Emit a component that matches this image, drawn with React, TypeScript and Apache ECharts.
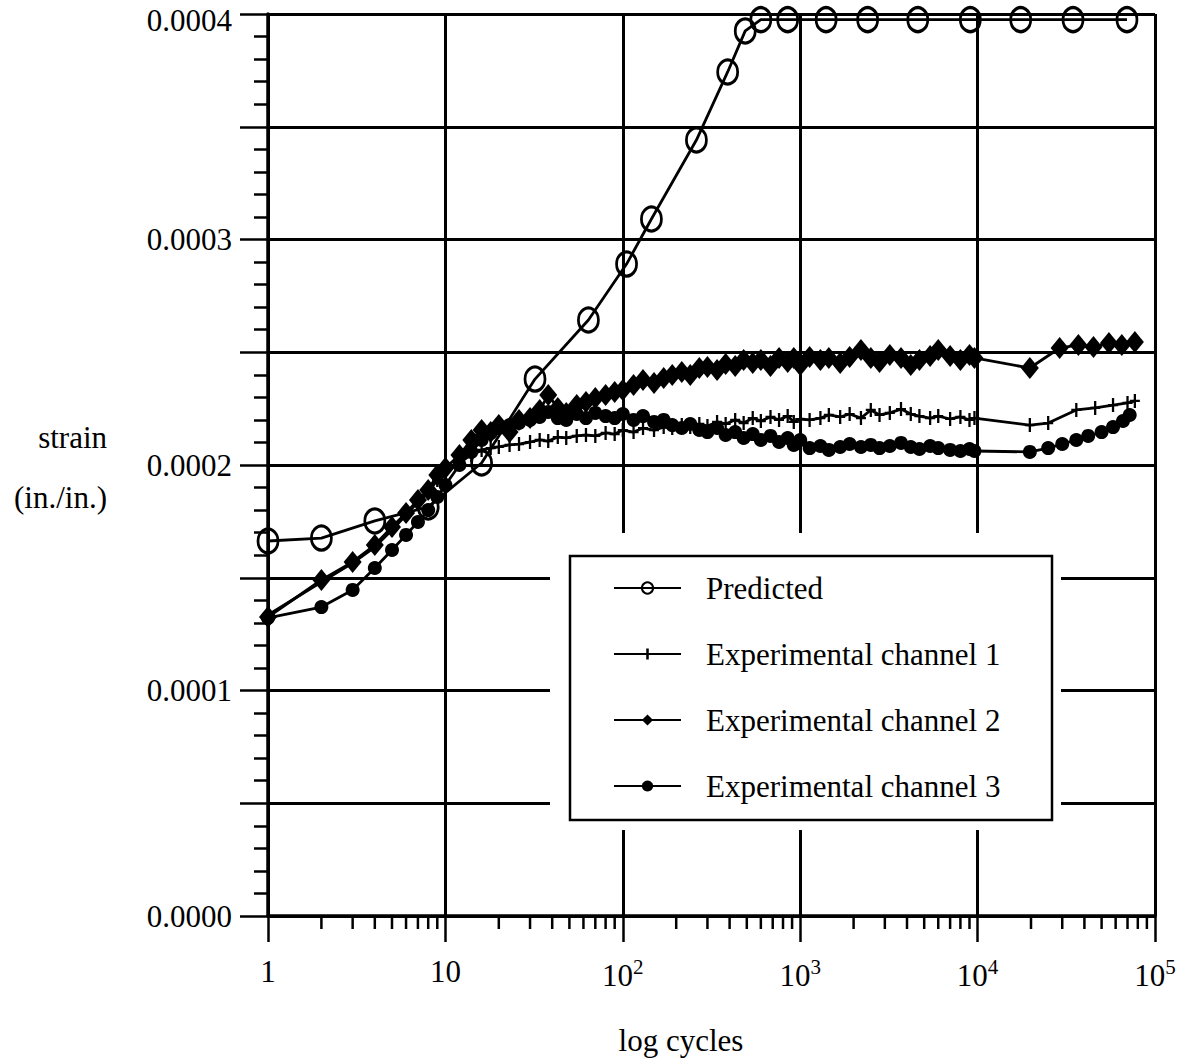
import React, { useEffect, useRef } from "react";
import * as echarts from "echarts";

// Strain values are stored in units of 1e-4 in./in.
const PRED_CYCLES = [1, 2, 4, 8, 16, 32, 64, 105, 145, 260, 390, 490, 600, 850, 1400, 2400, 4600, 9100, 17500, 34500, 69500];
const PRED_STRAIN = [1.663, 1.676, 1.752, 1.814, 2.009, 2.381, 2.643, 2.891, 3.091, 3.441, 3.743, 3.925, 3.975, 3.975, 3.975, 3.975, 3.975, 3.975, 3.975, 3.975, 3.975];

const CH1_CYCLES = [1, 2, 3, 4, 5, 6, 7, 8, 9, 10, 12, 14, 16, 18, 20, 23, 26, 30, 34, 38, 43, 48, 55, 62, 70, 80, 90, 100, 115, 130, 150, 170, 190, 215, 240, 270, 300, 340, 380, 430, 480, 540, 600, 680, 760, 850, 920, 1000, 1130, 1300, 1450, 1680, 1900, 2200, 2500, 2800, 3200, 3700, 4200, 4700, 5400, 6000, 7000, 8000, 9000, 9600, 19700, 25000, 36000, 46000, 58000, 70000, 77000];
const CH1_STRAIN = [1.335, 1.481, 1.565, 1.636, 1.712, 1.778, 1.836, 1.880, 1.933, 1.978, 2.013, 2.044, 2.067, 2.075, 2.080, 2.089, 2.093, 2.102, 2.111, 2.106, 2.124, 2.120, 2.129, 2.133, 2.129, 2.142, 2.137, 2.155, 2.146, 2.164, 2.155, 2.168, 2.164, 2.177, 2.168, 2.182, 2.173, 2.191, 2.182, 2.200, 2.186, 2.208, 2.195, 2.213, 2.200, 2.217, 2.191, 2.204, 2.200, 2.208, 2.222, 2.213, 2.226, 2.208, 2.244, 2.222, 2.231, 2.248, 2.226, 2.217, 2.208, 2.217, 2.204, 2.213, 2.200, 2.208, 2.177, 2.186, 2.244, 2.253, 2.266, 2.275, 2.284];

const CH2_CYCLES = [1, 2, 3, 4, 5, 6, 7, 8, 9, 10, 12, 14, 16, 18, 20, 23, 26, 30, 34, 38, 43, 48, 55, 62, 70, 80, 90, 100, 115, 130, 150, 170, 190, 215, 240, 270, 300, 340, 380, 430, 480, 540, 600, 680, 760, 850, 920, 1000, 1130, 1300, 1450, 1680, 1900, 2200, 2500, 2800, 3200, 3700, 4200, 4700, 5400, 6000, 7000, 8000, 9000, 9600, 19700, 29000, 37000, 45000, 55000, 65000, 77000];
const CH2_STRAIN = [1.326, 1.490, 1.570, 1.645, 1.725, 1.787, 1.845, 1.889, 1.956, 1.987, 2.044, 2.111, 2.155, 2.146, 2.177, 2.146, 2.200, 2.208, 2.244, 2.310, 2.253, 2.231, 2.266, 2.279, 2.297, 2.310, 2.324, 2.333, 2.355, 2.377, 2.364, 2.386, 2.399, 2.412, 2.399, 2.430, 2.435, 2.421, 2.448, 2.439, 2.466, 2.452, 2.466, 2.439, 2.475, 2.457, 2.475, 2.443, 2.479, 2.466, 2.475, 2.452, 2.479, 2.510, 2.475, 2.457, 2.488, 2.475, 2.443, 2.466, 2.483, 2.510, 2.483, 2.466, 2.488, 2.475, 2.430, 2.519, 2.532, 2.523, 2.541, 2.532, 2.545];

const CH3_CYCLES = [1, 2, 3, 4, 5, 6, 7, 8, 9, 10, 12, 14, 16, 18, 20, 23, 26, 30, 34, 38, 43, 48, 55, 62, 70, 80, 90, 100, 115, 130, 150, 170, 190, 215, 240, 270, 300, 340, 380, 430, 480, 540, 600, 680, 760, 850, 920, 1000, 1130, 1300, 1450, 1680, 1900, 2200, 2500, 2800, 3200, 3700, 4200, 4700, 5400, 6000, 7000, 8000, 9000, 9600, 19700, 25000, 30000, 36000, 42000, 50000, 58000, 66000, 72000];
const CH3_STRAIN = [1.322, 1.370, 1.446, 1.543, 1.623, 1.690, 1.747, 1.800, 1.858, 1.911, 2.000, 2.058, 2.111, 2.142, 2.164, 2.177, 2.186, 2.200, 2.213, 2.235, 2.208, 2.200, 2.226, 2.208, 2.231, 2.217, 2.208, 2.226, 2.200, 2.217, 2.191, 2.200, 2.177, 2.164, 2.182, 2.155, 2.146, 2.164, 2.133, 2.146, 2.120, 2.137, 2.111, 2.129, 2.102, 2.120, 2.089, 2.111, 2.075, 2.084, 2.067, 2.080, 2.093, 2.080, 2.089, 2.075, 2.084, 2.098, 2.080, 2.071, 2.084, 2.075, 2.067, 2.062, 2.071, 2.062, 2.058, 2.075, 2.093, 2.111, 2.129, 2.146, 2.168, 2.195, 2.222];

const SERIES_NAMES = ["Predicted", "Experimental channel 1", "Experimental channel 2", "Experimental channel 3"];
const X_MIN = 1;
const X_MAX = 100000;
const Y_MAX = 4; // 0.0004
const Y_STEP = 0.5; // 0.00005

const FONT = '"Liberation Serif", "Times New Roman", serif';

const zip = (xs: number[], ys: number[]) => xs.map((x, i) => [x, ys[i]]);

const minorTickData: number[][] = [];
for (let d = 1; d < X_MAX; d *= 10) {
  for (let m = 2; m <= 9; m++) minorTickData.push([d * m, 0]);
}

const PLUS = "path://M4.2,0 H5.8 V10 H4.2 Z M1.5,4.2 H8.5 V5.8 H1.5 Z";

export default function App() {
  const ref = useRef<HTMLDivElement>(null);
  useEffect(() => {
    if (!ref.current) return;
    const chart = echarts.init(ref.current, null, { renderer: "svg" });
    const black = "#000";
    const lineBase = { color: black, width: 2.8 };
    chart.setOption({
      animation: false,
      backgroundColor: "#fff",
      grid: { left: 268, top: 14, width: 887, height: 902, containLabel: false },
      xAxis: {
        type: "log",
        logBase: 10,
        min: X_MIN,
        max: X_MAX,
        axisLine: { show: true, lineStyle: { color: black, width: 3.5 } },
        axisTick: { show: true, inside: false, length: 26, lineStyle: { color: black, width: 2.5 } },
        splitLine: { show: true, lineStyle: { color: black, width: 3 } },
        axisLabel: {
          margin: 40,
          color: black,
          fontFamily: FONT,
          fontSize: 31,
          formatter: (v: number) => {
            const k = Math.round(Math.log10(v));
            if (k === 0) return "1";
            if (k === 1) return "10";
            return "10{sup|" + k + "}";
          },
          rich: {
            sup: { fontSize: 21, fontFamily: FONT, color: black, padding: [0, 0, 18, 0] },
          },
        },
      },
      yAxis: {
        type: "value",
        min: 0,
        max: Y_MAX,
        interval: Y_STEP,
        axisLine: { show: true, lineStyle: { color: black, width: 3.5 } },
        axisTick: { show: true, inside: false, length: 28, lineStyle: { color: black, width: 2.5 } },
        minorTick: { show: true, splitNumber: 5, length: 14, lineStyle: { color: black, width: 2.5 } },
        splitLine: { show: true, lineStyle: { color: black, width: 3 } },
        axisLabel: {
          margin: 36,
          color: black,
          fontFamily: FONT,
          fontSize: 31,
          formatter: (v: number) => {
            const r = Math.round(v / Y_STEP);
            if (r % 2 !== 0) return "";
            const s = (v / 10000).toFixed(4);
            return v >= Y_MAX ? "{top|" + s + "}" : s;
          },
          rich: {
            top: { fontSize: 31, fontFamily: FONT, color: black, padding: [12, 0, 0, 0] },
          },
        },
      },
      legend: {
        data: SERIES_NAMES,
        orient: "vertical",
        left: 613,
        top: 572,
        padding: 0,
        itemWidth: 67,
        itemHeight: 14,
        itemGap: 34,
        z: 10,
        selectedMode: false,
        backgroundColor: "transparent",
        textStyle: { fontFamily: FONT, fontSize: 31, color: black, lineHeight: 32, padding: [0, 0, 0, 20] },
      },
      graphic: [
        { type: "rect", z: 5, shape: { x: 550, y: 533, width: 511, height: 297 }, style: { fill: "#fff" } },
        { type: "rect", z: 6, shape: { x: 570, y: 556, width: 482, height: 264 }, style: { fill: "#fff", stroke: black, lineWidth: 2.5 } },
        { type: "text", z: 6, x: 107, y: 437, style: { text: "strain", font: "31px " + FONT, fill: black, align: "right", verticalAlign: "middle", textAlign: "right", textVerticalAlign: "middle" } },
        { type: "text", z: 6, x: 107, y: 497, style: { text: "(in./in.)", font: "31px " + FONT, fill: black, align: "right", verticalAlign: "middle", textAlign: "right", textVerticalAlign: "middle" } },
        { type: "text", z: 6, x: 681, y: 1040, style: { text: "log cycles", font: "31px " + FONT, fill: black, align: "center", verticalAlign: "middle", textAlign: "center", textVerticalAlign: "middle" } },
      ],
      series: [
        {
          name: SERIES_NAMES[0],
          type: "line",
          data: zip(PRED_CYCLES, PRED_STRAIN),
          symbol: "circle",
          symbolSize: [20, 24],
          lineStyle: lineBase,
          itemStyle: { color: "rgba(255,255,255,0)", borderColor: black, borderWidth: 3 },
          z: 3,
        },
        {
          name: SERIES_NAMES[1],
          type: "line",
          data: zip(CH1_CYCLES, CH1_STRAIN),
          symbol: PLUS,
          symbolSize: [10, 14],
          lineStyle: lineBase,
          itemStyle: { color: black },
          z: 4,
        },
        {
          name: SERIES_NAMES[2],
          type: "line",
          data: zip(CH2_CYCLES, CH2_STRAIN),
          symbol: "diamond",
          symbolSize: [18, 22],
          lineStyle: lineBase,
          itemStyle: { color: black },
          z: 2,
        },
        {
          name: SERIES_NAMES[3],
          type: "line",
          data: zip(CH3_CYCLES, CH3_STRAIN),
          symbol: "circle",
          symbolSize: 14,
          lineStyle: lineBase,
          itemStyle: { color: black },
          z: 3,
        },
        {
          name: "minorTicks",
          type: "custom",
          silent: true,
          clip: false,
          data: minorTickData,
          renderItem: (_params: any, api: any) => {
            const p = api.coord([api.value(0), 0]);
            return {
              type: "line",
              shape: { x1: p[0], y1: p[1], x2: p[0], y2: p[1] + 13 },
              style: { stroke: black, lineWidth: 2.5 },
            };
          },
        },
      ],
    });
    return () => chart.dispose();
  }, []);
  return <div ref={ref} style={{ position: "absolute", left: 0, top: 0, width: 1182, height: 1059 }} />;
}
